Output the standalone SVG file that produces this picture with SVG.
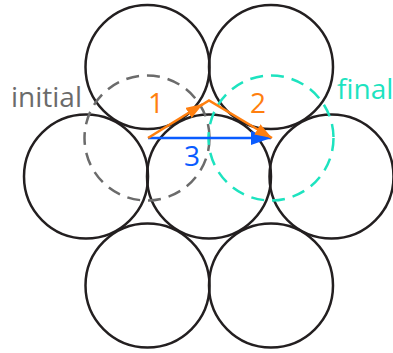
<svg xmlns="http://www.w3.org/2000/svg" width="393" height="353" viewBox="0 0 393 353">
  <style>
    .disk { fill: none; stroke: #231f20; stroke-width: 2.5; }
    .ghost { fill: none; stroke-width: 2.5; stroke-dasharray: 13 8; }
    .lbl { font-family: "Open Sans", "Noto Sans", "DejaVu Sans", sans-serif; font-size: 28px; }
    .orange { stroke: #ff7f0f; stroke-width: 2.6; fill: none; }
    .blue { stroke: #0a5cff; stroke-width: 2.6; fill: none; }
  </style>
  <defs>
    <marker id="headO" markerUnits="userSpaceOnUse" markerWidth="18" markerHeight="12" refX="17" refY="6" orient="auto">
      <path d="M0,0 L17,6 L0,12 z" fill="#ff7f0f"/>
    </marker>
    <marker id="headB" markerUnits="userSpaceOnUse" markerWidth="21" markerHeight="14" refX="20" refY="7" orient="auto">
      <path d="M0,0 L20,7 L0,14 z" fill="#0a5cff"/>
    </marker>
  </defs>
  <rect width="393" height="353" fill="#ffffff"/>

  <g id="disk-top-left"><circle class="disk" cx="147.5" cy="67" r="62"/></g>
  <g id="disk-top-right"><circle class="disk" cx="271" cy="67" r="62"/></g>
  <g id="disk-mid-left"><circle class="disk" cx="86" cy="176.5" r="62"/></g>
  <g id="disk-mid-center"><circle class="disk" cx="209" cy="176.5" r="62"/></g>
  <g id="disk-mid-right"><circle class="disk" cx="331.5" cy="176.5" r="62"/></g>
  <g id="disk-bottom-left"><circle class="disk" cx="147.5" cy="285.5" r="62"/></g>
  <g id="disk-bottom-right"><circle class="disk" cx="271" cy="285.5" r="62"/></g>

  <g id="initial">
    <circle class="ghost" cx="147" cy="138" r="62.5" stroke="#6b6b6b"/>
    <text class="lbl" x="11" y="107" fill="#6b6b6b">initial</text>
  </g>
  <g id="final">
    <circle class="ghost" cx="271" cy="138" r="62.5" stroke="#1de3bf"/>
    <text class="lbl" x="337" y="99" fill="#1de3bf">final</text>
  </g>

  <g id="connectors">
    <path class="blue" d="M148,138 L271,138" marker-end="url(#headB)"/>
    <path class="orange" d="M148,138 L203,104" marker-end="url(#headO)"/>
    <path class="orange" d="M200,106 L209,100.5 L272,138" marker-end="url(#headO)"/>
    <text class="lbl" x="148" y="113" fill="#ff7f0f">1</text>
    <text class="lbl" x="250" y="113" fill="#ff7f0f">2</text>
    <text class="lbl" x="184" y="166" fill="#0a5cff">3</text>
  </g>
</svg>
